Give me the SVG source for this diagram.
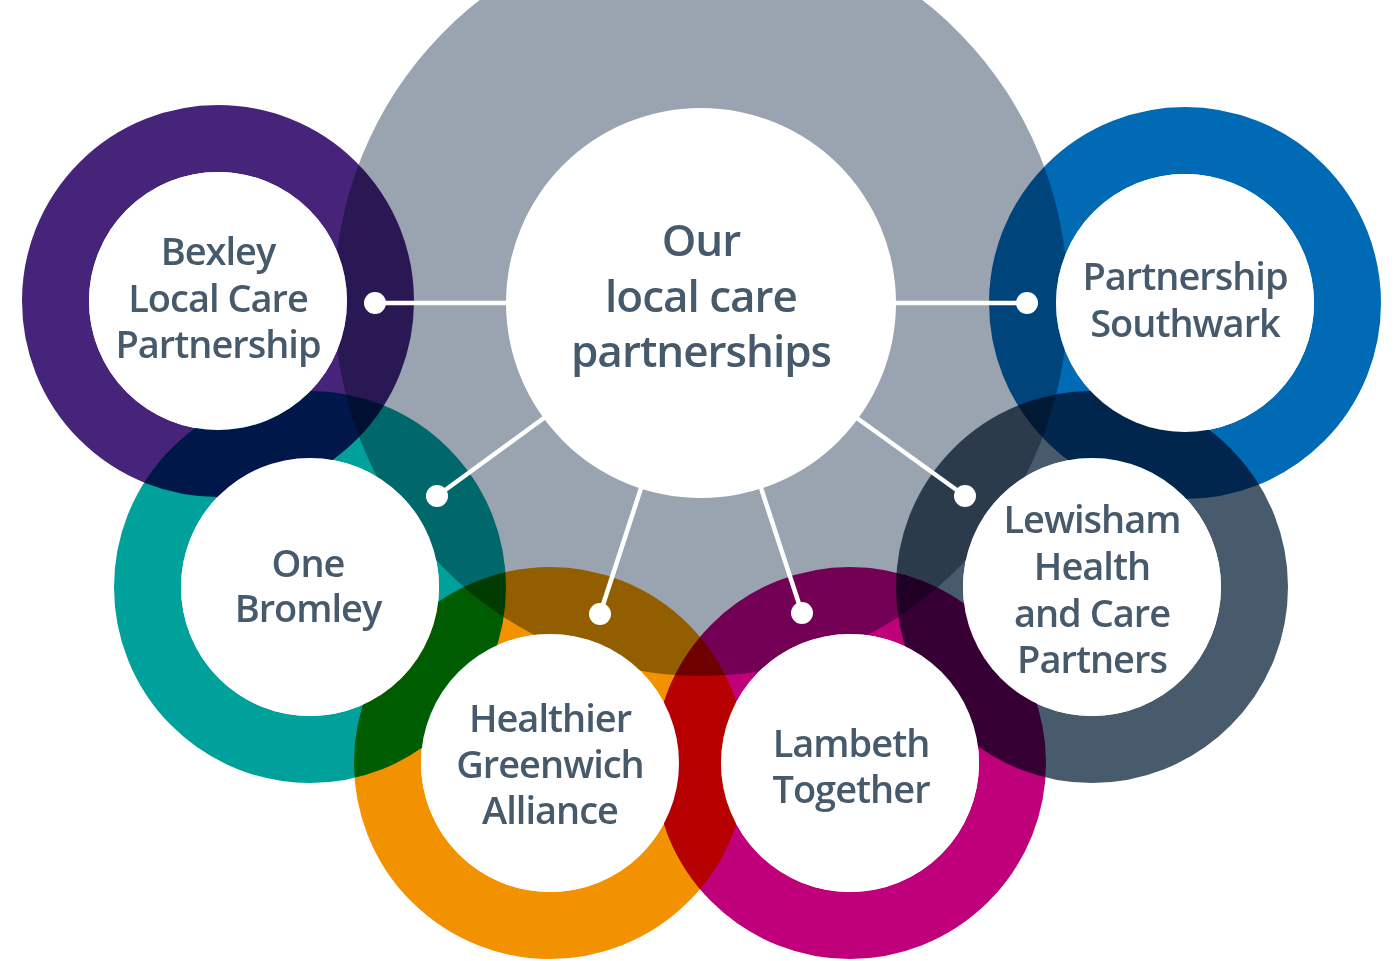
<svg xmlns="http://www.w3.org/2000/svg" width="1400" height="961" viewBox="0 0 1400 961">
<style>
.ring{fill:none;stroke-width:67;mix-blend-mode:multiply}
.hole{fill:#ffffff}
.lbl{font-family:"Open Sans","Liberation Sans",sans-serif;font-weight:600;font-size:38px;letter-spacing:-1px;fill:#475a6c;text-anchor:middle}
.big{font-size:44px}
.con line{stroke:#ffffff;stroke-width:4.5}
.con circle{fill:#ffffff}
</style>
<rect width="1400" height="961" fill="#ffffff"/>
<ellipse id="hub-bg" cx="701" cy="300" rx="367" ry="376" fill="#9aa4b0"/>
<g id="rings">
<circle id="ring-bexley" class="ring" cx="218" cy="301" r="162.5" stroke="#45247a"/>
<circle id="ring-southwark" class="ring" cx="1185" cy="303" r="162.5" stroke="#006ab4"/>
<circle id="ring-bromley" class="ring" cx="310" cy="587" r="162.5" stroke="#00a19a"/>
<circle id="ring-lewisham" class="ring" cx="1092" cy="587" r="162.5" stroke="#485b6d"/>
<circle id="ring-greenwich" class="ring" cx="550" cy="763" r="162.5" stroke="#f39200"/>
<circle id="ring-lambeth" class="ring" cx="850" cy="763" r="162.5" stroke="#c0007b"/>
</g>
<g id="connectors" class="con">
<line x1="375" y1="303" x2="600" y2="303"/><circle cx="375" cy="303" r="11"/>
<line x1="1027" y1="303" x2="800" y2="303"/><circle cx="1027" cy="303" r="11"/>
<line x1="437" y1="496" x2="600" y2="377"/><circle cx="437" cy="496" r="11"/>
<line x1="965" y1="496" x2="800" y2="377"/><circle cx="965" cy="496" r="11"/>
<line x1="600" y1="614" x2="660" y2="430"/><circle cx="600" cy="614" r="11"/>
<line x1="802" y1="613" x2="742" y2="430"/><circle cx="802" cy="613" r="11"/>
</g>
<g id="node-center">
<circle class="hole" cx="701" cy="303" r="195"/>
<text class="lbl big" x="701" y="256">Our</text>
<text class="lbl big" x="701" y="312">local care</text>
<text class="lbl big" x="701" y="367">partnerships</text>
</g>
<g id="node-bexley">
<circle class="hole" cx="218" cy="301" r="129"/>
<text class="lbl" x="218" y="265">Bexley</text>
<text class="lbl" x="218" y="312">Local Care</text>
<text class="lbl" x="218" y="358">Partnership</text>
</g>
<g id="node-southwark">
<circle class="hole" cx="1185" cy="303" r="129"/>
<text class="lbl" x="1185" y="290">Partnership</text>
<text class="lbl" x="1185" y="337">Southwark</text>
</g>
<g id="node-bromley">
<circle class="hole" cx="310" cy="587" r="129"/>
<text class="lbl" x="308" y="577">One</text>
<text class="lbl" x="308" y="622">Bromley</text>
</g>
<g id="node-lewisham">
<circle class="hole" cx="1092" cy="587" r="129"/>
<text class="lbl" x="1092" y="533">Lewisham</text>
<text class="lbl" x="1092" y="580">Health</text>
<text class="lbl" x="1092" y="627">and Care</text>
<text class="lbl" x="1092" y="673">Partners</text>
</g>
<g id="node-greenwich">
<circle class="hole" cx="550" cy="763" r="129"/>
<text class="lbl" x="550" y="732">Healthier</text>
<text class="lbl" x="550" y="778">Greenwich</text>
<text class="lbl" x="550" y="824">Alliance</text>
</g>
<g id="node-lambeth">
<circle class="hole" cx="850" cy="763" r="129"/>
<text class="lbl" x="851" y="757">Lambeth</text>
<text class="lbl" x="851" y="803">Together</text>
</g>
</svg>
